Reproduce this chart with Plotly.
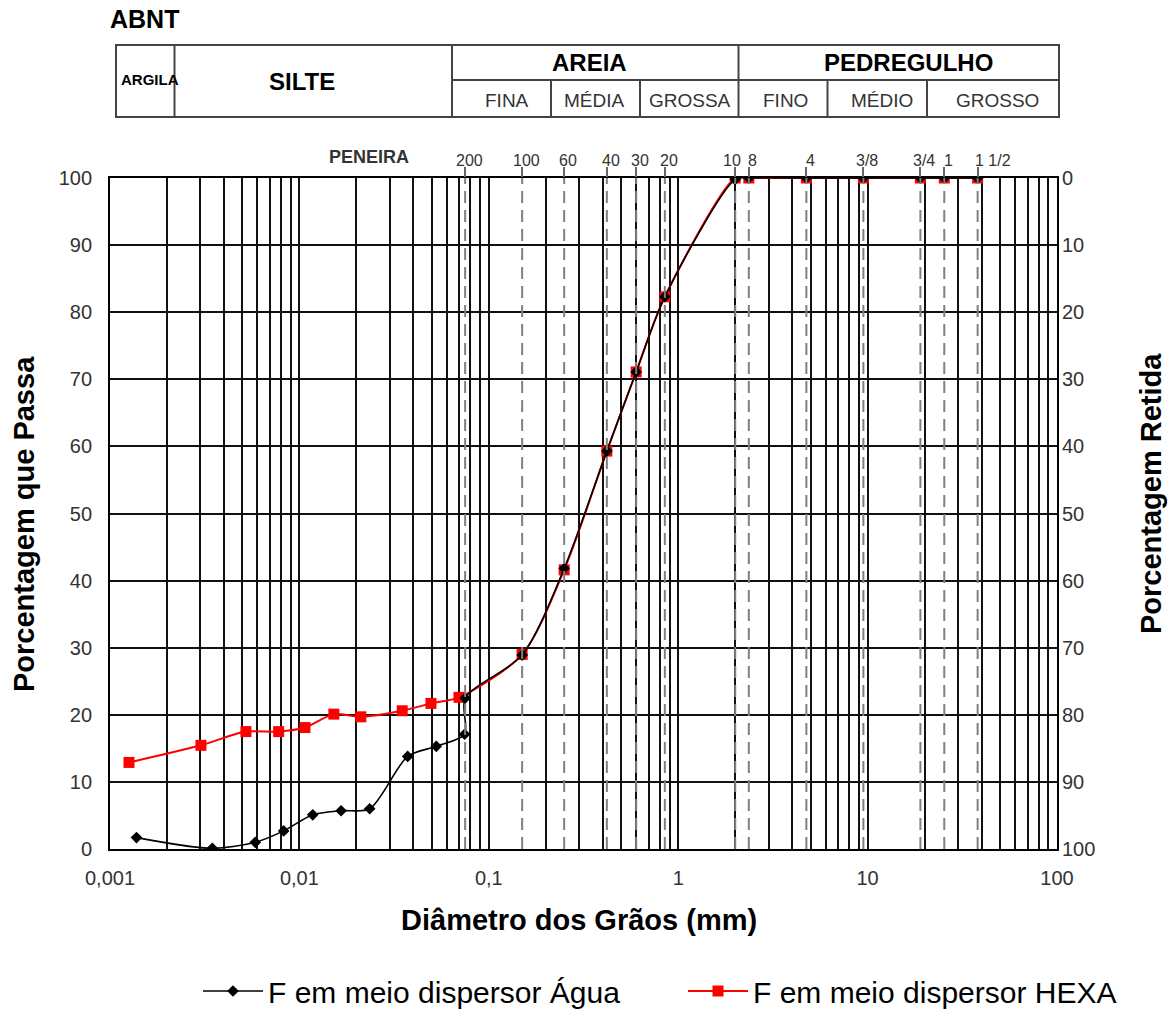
import math
import plotly.graph_objects as go

# ---- data -----------------------------------------------------------------
# Grain-size curve, dispersant: water (Água)
agua_diam = [0.00138, 0.00347, 0.00585, 0.00826, 0.01176, 0.0166, 0.0235, 0.0373,
             0.0528, 0.0745, 0.075, 0.15, 0.25, 0.42, 0.6, 0.85, 2.0, 2.36,
             4.75, 9.5, 19.0, 25.4, 38.1]
agua_pass = [1.7, 0.1, 1.0, 2.7, 5.1, 5.7, 6.0, 13.8,
             15.3, 17.1, 22.5, 28.9, 41.8, 59.3, 71.1, 82.3, 99.8, 100,
             100, 100, 100, 100, 100]

# Grain-size curve, dispersant: hexametaphosphate (HEXA)
hexa_diam = [0.00126, 0.00302, 0.00522, 0.00777, 0.0107, 0.0152, 0.0211, 0.0349,
             0.0495, 0.0696, 0.15, 0.25, 0.42, 0.6, 0.85, 2.0, 2.36,
             4.75, 9.5, 19.0, 25.4, 38.1]
hexa_pass = [12.9, 15.45, 17.5, 17.5, 18.1, 20.1, 19.7, 20.6,
             21.7, 22.6, 29.0, 41.6, 59.3, 71.1, 82.3, 100, 100,
             100, 100, 100, 100, 100]

# Sieve openings (mm) and their designations
sieve_mm = [0.075, 0.15, 0.25, 0.42, 0.6, 0.85, 2.0, 2.36, 4.75, 9.5, 19.0, 25.4, 38.1]
sieve_lbl = ["200", "100", "60", "40", "30", "20", "10", "8", "4", "3/8", "3/4", "1", "1 1/2"]

x_tickvals = [0.001, 0.01, 0.1, 1, 10, 100]
x_ticktext = ["0,001", "0,01", "0,1", "1", "10", "100"]
y_ticks = list(range(0, 101, 10))

# ---- layout geometry (pixels) ---------------------------------------------
W, H = 1175, 1012
L, R, T, B = 110, 1057, 178, 849


def px(xp):
    return (xp - L) / (R - L)


def py(yp):
    return (B - yp) / (B - T)


FONT = "Liberation Sans, Arial, sans-serif"
TXT = "#333333"
GRID = "#111111"

fig = go.Figure()

# dashed sieve lines (also carries the top sieve tick axis)
sx, sy = [], []
for d in sieve_mm:
    sx += [d, d, None]
    sy += [0, 100, None]
fig.add_trace(go.Scatter(x=sx, y=sy, mode="lines", xaxis="x2", yaxis="y",
                         line=dict(color="#808080", width=2, dash="12px,7px"),
                         hoverinfo="skip", showlegend=False))

# retained-percentage companion (drives the right-hand axis)
fig.add_trace(go.Scatter(x=hexa_diam, y=[100 - v for v in hexa_pass], yaxis="y2",
                         mode="lines", line=dict(width=0), opacity=0,
                         hoverinfo="skip", showlegend=False))

fig.add_trace(go.Scatter(
    x=hexa_diam, y=hexa_pass, mode="lines+markers",
    name="F em meio dispersor HEXA",
    line=dict(color="#ff0000", width=2, shape="spline", smoothing=0.8),
    marker=dict(symbol="square", size=11, color="#ff0000"),
    legend="legend2"))

fig.add_trace(go.Scatter(
    x=agua_diam, y=agua_pass, mode="lines+markers",
    name="F em meio dispersor Água",
    line=dict(color="black", width=1.6, shape="spline", smoothing=0.8),
    marker=dict(symbol="diamond", size=9, color="black"),
    legend="legend"))

minor_vals = [m * 10 ** e for e in range(-3, 2) for m in range(2, 10)]

legend_style = dict(orientation="h", xanchor="left", yanchor="middle",
                    font=dict(size=30, color="black", family=FONT),
                    bgcolor="rgba(0,0,0,0)", itemwidth=60)

fig.update_layout(
    width=W, height=H,
    margin=dict(l=L, r=W - R, t=T, b=H - B, pad=0, autoexpand=False),
    paper_bgcolor="white", plot_bgcolor="white",
    font=dict(family=FONT, color=TXT),
    xaxis=dict(type="log", range=[-3, 2], tickvals=x_tickvals, ticktext=x_ticktext,
               showgrid=True, gridcolor=GRID, gridwidth=1.6,
               minor=dict(tickvals=minor_vals, showgrid=True, gridcolor=GRID, gridwidth=1.6),
               showline=True, linecolor="black", linewidth=1.8, mirror=True,
               zeroline=False, ticks="", ticklabelstandoff=10,
               tickfont=dict(size=20, color=TXT)),
    xaxis2=dict(type="log", range=[-3, 2], overlaying="x", side="top",
                tickvals=sieve_mm, showticklabels=False, showgrid=False,
                ticks="outside", ticklen=10, tickwidth=1.5, tickcolor="#666666",
                zeroline=False, showline=False),
    yaxis=dict(range=[0, 100], tickvals=y_ticks, showgrid=True, gridcolor=GRID,
               gridwidth=1.6, showline=True, linecolor="black", linewidth=1.8,
               mirror=True, zeroline=False, ticks="", ticklabelstandoff=12,
               tickfont=dict(size=20, color=TXT)),
    yaxis2=dict(range=[100, 0], tickvals=y_ticks, overlaying="y", side="right",
                showgrid=False, zeroline=False, ticks="", ticklabelstandoff=4,
                tickfont=dict(size=20, color=TXT)),
    legend=dict(x=px(198), y=py(991), **legend_style),
    legend2=dict(x=px(683), y=py(991), **legend_style),
    showlegend=True,
)

# ---- axis titles -----------------------------------------------------------
ann = [
    dict(text="<b>Diâmetro dos Grãos (mm)</b>", x=px(579), y=py(920), size=29, color="black"),
    dict(text="<b>Porcentagem que Passa</b>", x=px(24), y=py(524), size=29, color="black", angle=-90),
    dict(text="<b>Porcentagem Retida</b>", x=px(1151), y=py(494), size=29, color="black", angle=-90),
    dict(text="<b>PENEIRA</b>", x=px(369), y=py(157), size=18, color=TXT),
]

# ---- ABNT classification table --------------------------------------------
tab_l, tab_r, tab_t, tab_m, tab_b = 116, 1059, 45, 80, 117
main_cols = [174.5, 452, 738.5]
sub_cols_areia = [551, 640]
sub_cols_pedr = [827.5, 927]

shapes = [dict(type="rect", xref="paper", yref="paper",
               x0=px(tab_l), x1=px(tab_r), y0=py(tab_b), y1=py(tab_t),
               line=dict(color="#444444", width=2))]
for c in main_cols:
    shapes.append(dict(type="line", xref="paper", yref="paper", x0=px(c), x1=px(c),
                       y0=py(tab_b), y1=py(tab_t), line=dict(color="#444444", width=2)))
shapes.append(dict(type="line", xref="paper", yref="paper", x0=px(main_cols[1]), x1=px(tab_r),
                   y0=py(tab_m), y1=py(tab_m), line=dict(color="#444444", width=2)))
for c in sub_cols_areia + sub_cols_pedr:
    shapes.append(dict(type="line", xref="paper", yref="paper", x0=px(c), x1=px(c),
                       y0=py(tab_b), y1=py(tab_m), line=dict(color="#444444", width=2)))

ann += [
    dict(text="<b>ABNT</b>", x=px(108), y=py(19), size=25, color="black", xanchor="left"),
    dict(text="<b>ARGILA</b>", x=px(150), y=py(80), size=15, color="black"),
    dict(text="<b>SILTE</b>", x=px(302), y=py(81), size=24, color="black"),
    dict(text="<b>AREIA</b>", x=px(589), y=py(62), size=24, color="black"),
    dict(text="<b>PEDREGULHO</b>", x=px(908), y=py(62), size=24, color="black"),
    dict(text="FINA", x=px(507), y=py(100), size=19, color=TXT),
    dict(text="MÉDIA", x=px(594), y=py(100), size=19, color=TXT),
    dict(text="GROSSA", x=px(690), y=py(100), size=19, color=TXT),
    dict(text="FINO", x=px(785), y=py(100), size=19, color=TXT),
    dict(text="MÉDIO", x=px(882), y=py(100), size=19, color=TXT),
    dict(text="GROSSO", x=px(997), y=py(100), size=19, color=TXT),
]

annotations = []
for a in ann:
    annotations.append(dict(
        text=a["text"], x=a["x"], y=a["y"], xref="paper", yref="paper",
        xanchor=a.get("xanchor", "center"), yanchor="middle", showarrow=False,
        textangle=a.get("angle", 0),
        font=dict(family=FONT, size=a["size"], color=a["color"])))

# sieve designations above the plot (log axis -> annotation x in log10 units)
for d, lbl in zip(sieve_mm, sieve_lbl):
    if lbl == "1 1/2":
        anchor, shift = "left", -5
    elif lbl == "10":
        anchor, shift = "right", 8
    else:
        anchor, shift = "center", 4
    annotations.append(dict(
        text=lbl, x=math.log10(d), y=py(160), xref="x", yref="paper",
        xanchor=anchor, xshift=shift, yanchor="middle", showarrow=False,
        font=dict(family=FONT, size=16, color=TXT)))

fig.update_layout(shapes=shapes, annotations=annotations)

fig.write_html("out.html")
